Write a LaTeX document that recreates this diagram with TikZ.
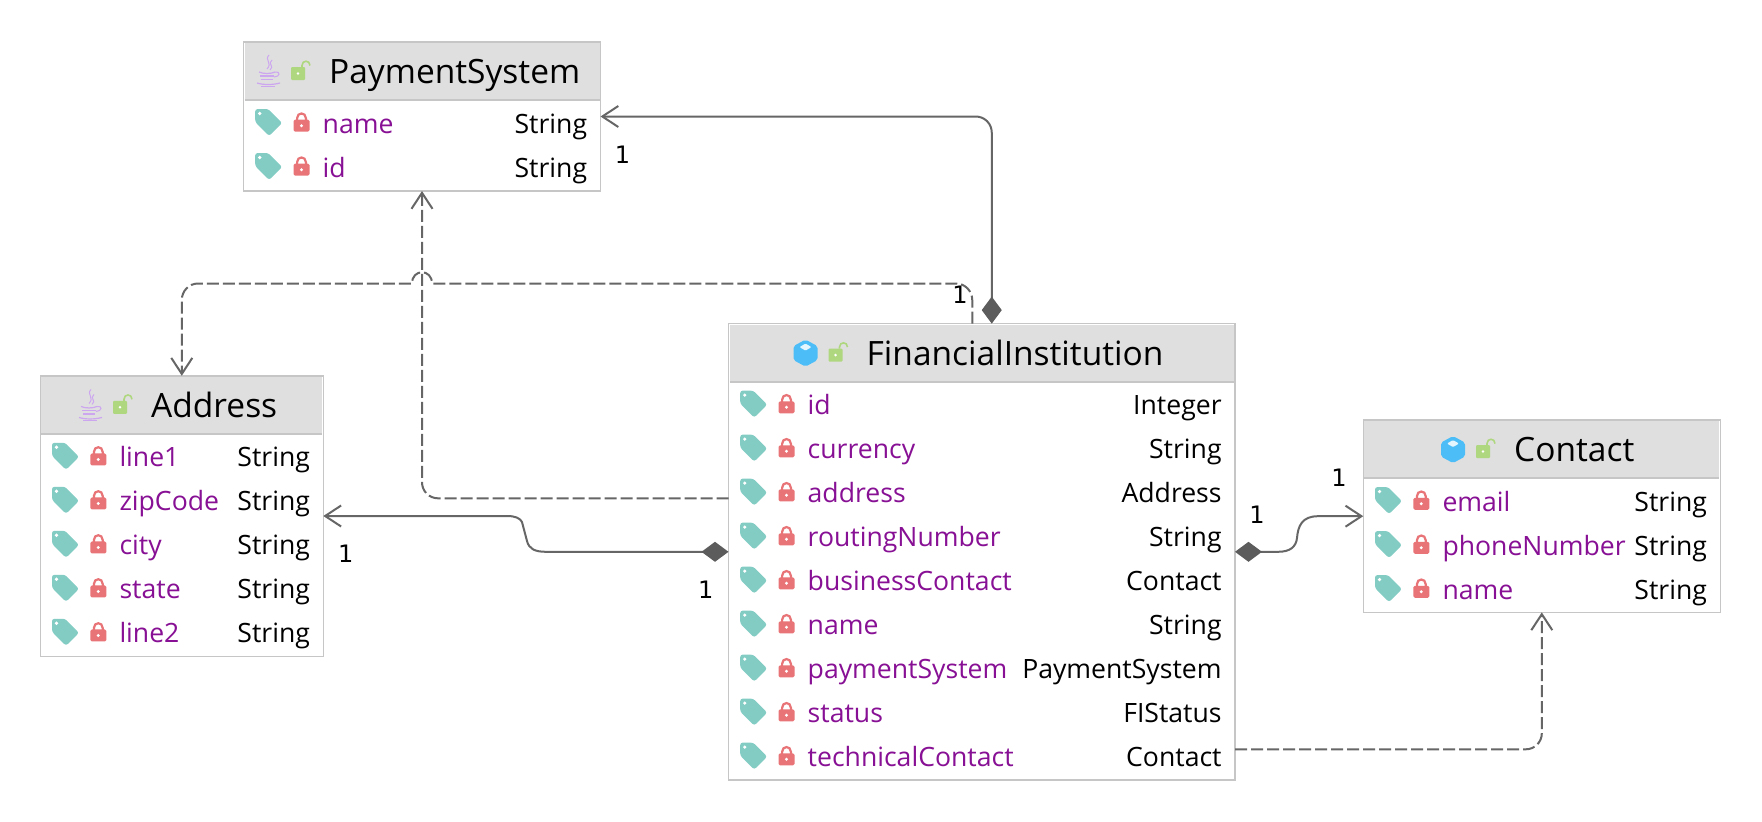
\documentclass[tikz,border=0pt]{standalone}
\usepackage{fontspec}
\setmainfont{Open Sans}
\newfontfamily\numfont{DejaVu Sans}
\usetikzlibrary{arrows.meta}
\usetikzlibrary{calc}
\definecolor{boxline}{HTML}{C6C6C6}
\definecolor{headfill}{HTML}{DFDFDF}
\definecolor{fieldtext}{HTML}{871094}
\definecolor{edgegray}{HTML}{666666}
\definecolor{tagcol}{HTML}{82CCC4}
\definecolor{lockcol}{HTML}{E97477}
\definecolor{opencol}{HTML}{AFD77F}
\definecolor{cubecol}{HTML}{4DBDF8}
\definecolor{javacol}{HTML}{CDA6F0}
\tikzset{
    classbox/.style={
        draw=boxline,
        line width=1.5pt,
        fill=white,
        outer sep=0pt,
        inner sep=0pt},
    titletext/.style={
        anchor=base west,
        inner sep=0pt,
        font=\fontsize{33.5}{40}\selectfont},
    fieldname/.style={
        anchor=base west,
        inner sep=0pt,
        text=fieldtext,
        font=\fontsize{26.6}{32}\selectfont},
    fieldtype/.style={
        anchor=base east,
        inner sep=0pt,
        font=\fontsize{26.6}{32}\selectfont},
    multlabel/.style={
        inner sep=0pt,
        font=\numfont\fontsize{24}{28}\selectfont},
    comp/.style={
        draw=edgegray,
        line width=2pt,
        {Diamond[length=27pt,width=20pt,color=edgegray!90!black]}-{Straight Barb[length=16pt,width=21pt,line width=2pt]}},
    dep/.style={
        draw=edgegray,
        line width=2pt,
        dash pattern=on 12pt off 4pt,
        -{Straight Barb[length=16pt,width=21pt,line width=2pt]}},
    tagicon/.pic={
        \fill[tagcol,rounded corners=2.5pt] (0,0) -- (13,0) -- (27,14) -- (14,27) -- (0,13) -- cycle;
        \fill[white] (4.5,4.5) circle (1.8pt);},
    lockicon/.pic={
        \draw[lockcol,line width=2.2pt] (3.6,8) -- (3.6,5.5) .. controls (3.6,-0.8) and (12.4,-0.8) .. (12.4,5.5) -- (12.4,8);
        \fill[lockcol,rounded corners=1.5pt] (0,7) rectangle (16,19);
        \fill[white] (8,13) circle (1.6pt);},
    openicon/.pic={
        \draw[opencol,line width=1.6pt] (11,6) -- (11,4.5) .. controls (11,-1.2) and (19,-1.2) .. (19,4.5);
        \fill[opencol,rounded corners=1pt] (0,6) rectangle (14,19);
        \fill[white] (7,12.5) circle (1.4pt);},
    cubeicon/.pic={
        \fill[cubecol,rounded corners=2pt] (12,0) -- (24,6.5) -- (24,20.5) -- (12,27) -- (0,20.5) -- (0,6.5) -- cycle;
        \fill[white!85!cubecol,rounded corners=1pt] (12,4) -- (18,7.5) -- (12,11) -- (6,7.5) -- cycle;},
    javaicon/.pic={
        \draw[javacol,line width=1pt] (13,0) .. controls (8,5) and (17,8) .. (11,14);
        \draw[javacol,line width=1pt] (16,5) .. controls (11,9) and (19,11) .. (14,15);
        \draw[javacol,line width=1.2pt] (3,17) .. controls (7,19) and (15,19) .. (19,17);
        \draw[javacol,line width=1.2pt] (4,21) -- (18,21);
        \draw[javacol,line width=1.2pt] (5,24.5) -- (17,24.5);
        \draw[javacol,line width=1pt] (19,17) .. controls (25,16) and (24,22) .. (18,22);
        \draw[javacol,line width=1.2pt] (1,28) .. controls (7,30) and (17,30) .. (24,28);
        \draw[javacol,line width=1pt] (5,31) -- (19,31);}
}
% box: id, centre x, centre y, width, height, title, title offset, class icon, icon top
\newcommand{\classnode}[9]{
    \node[classbox,minimum width=#4pt,minimum height=#5pt] (#1) at (#2,#3) {};
    \fill[headfill] ($(#1.north west)+(1,1)$) rectangle ($(#1.north east)+(-1,58)$);
    \draw[boxline,line width=2pt] ($(#1.north west)+(1,58)$) -- ($(#1.north east)+(-1,58)$);
    \pic at ($(#1.north west)+(#7-73,#9)$) {#8};
    \pic at ($(#1.north west)+(#7-38,19)$) {openicon};
    \node[titletext] (#1-title) at ($(#1.north west)+(#7,41.5)$) {#6};
}
\newcommand{\classfields}[2]{
    \foreach \fname/\ftype [count=\i] in {#2} {
        \pgfmathsetmacro{\rowy}{58+22+44*(\i-1)}
        \pic at ($(#1.north west)+(11.7,\rowy-13)$) {tagicon};
        \pic at ($(#1.north west)+(50,\rowy-9.3)$) {lockicon};
        \node[fieldname] (#1-\i-name) at ($(#1.north west)+(79,\rowy+11.2)$) {\fname};
        \node[fieldtype] (#1-\i-type) at ($(#1.north east)+(-13.2,\rowy+11.2)$) {\ftype};
    }
}

\begin{document}
\begin{tikzpicture}[x=1pt,y=-1pt]
    \useasboundingbox (0,0) rectangle (1762,822);

    \classnode{ps}{422}{116.5}{357}{149}{PaymentSystem}{85.5}{javaicon}{13}
    \classfields{ps}{name/String,id/String}

    \classnode{addr}{181.8}{516}{283}{280.5}{Address}{110.7}{javaicon}{13.7}
    \classfields{addr}{line1/String,zipCode/String,city/String,state/String,line2/String}

    \classnode{fi}{981.75}{551.8}{506.5}{456.4}{FinancialInstitution}{138}{cubeicon}{16}
    \classfields{fi}{id/Integer,currency/String,address/Address,routingNumber/String,businessContact/Contact,name/String,paymentSystem/PaymentSystem,status/FIStatus,technicalContact/Contact}

    \classnode{contact}{1541.8}{516.2}{357}{192.3}{Contact}{150.7}{cubeicon}{16}
    \classfields{contact}{email/String,phoneNumber/String,name/String}

    \coordinate (fiCompTop) at ($(fi.north)+(10,0)$);
    \coordinate (fiDepTop) at ($(fi.north)+(-9.5,0)$);
    \coordinate (fiDepLeft) at ($(fi.west)+(0,-53.5)$);
    \coordinate (fiDepRight) at ($(fi.east)+(0,197.5)$);

    \draw[comp,rounded corners=16pt] (fiCompTop) |- (ps.east);
    \draw[comp] (fi.west) -- (546,551.8) .. controls (535,551.8) and (529,549) .. (527,541) -- (522,522) .. controls (520,518) and (515,516) .. (507,516) -- (addr.east);
    \draw[comp] (fi.east) -- (1278,551.8) .. controls (1290,551.8) and (1296,547) .. (1297,538) .. controls (1298,526) and (1302,516.2) .. (1318,516.2) -- (contact.west);

    \draw[dep,rounded corners=16pt] (fiDepLeft) -| (ps.south);
    \draw[dep,rounded corners=16pt] (fiDepRight) -| (contact.south);
    \draw[dep] (fiDepTop) -- (972.25,300) .. controls (972.25,291) and (965,283.5) .. (956,283.5) -- (432,283.5) .. controls (432,268.5) and (412,268.5) .. (412,283.5) -- (198,283.5) .. controls (189,283.5) and (181.8,291) .. (181.8,300) -- (addr.north);

    \node[multlabel] (lblPs) at (622.5,155) {1};
    \node[multlabel] (lblFiTop) at (960,295) {1};
    \node[multlabel] (lblAddr) at (345.7,554) {1};
    \node[multlabel] (lblFiWest) at (705.7,590) {1};
    \node[multlabel] (lblContact) at (1339,478) {1};
    \node[multlabel] (lblFiEast) at (1257,515) {1};
\end{tikzpicture}
\end{document}
